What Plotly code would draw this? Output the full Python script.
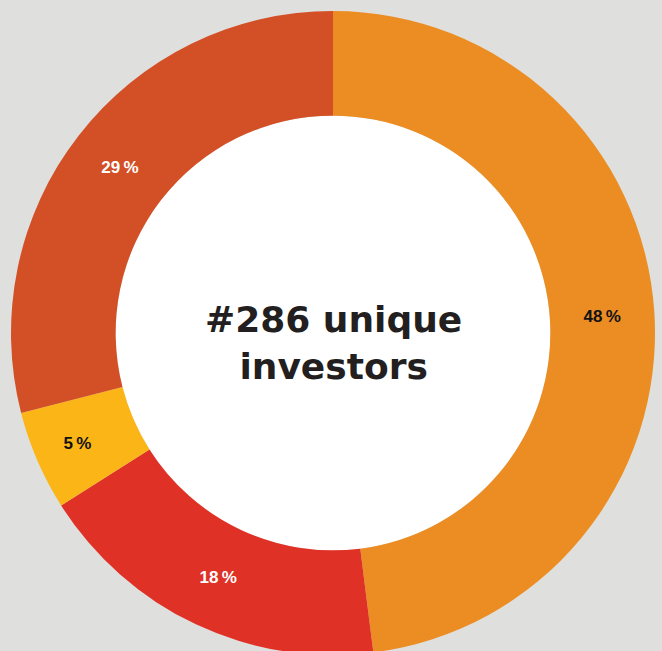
import plotly.graph_objects as go

# investor split, clockwise from 12 o'clock
segments = ["A", "B", "C", "D"]
shares = [48, 18, 5, 29]
seg_colors = ["#eb8d22", "#e03127", "#fbb517", "#d35027"]
label_colors = ["#111111", "#ffffff", "#111111", "#ffffff"]
center_text = "<b>#286 unique<br>investors</b>"

# canvas is a bit taller than the window so the ring is cut at the bottom like the original
W, H = 662, 666
cx, cy, r_out = 333, 333, 322   # px from top-left
hole = 0.675

fig = go.Figure(go.Pie(
    labels=segments,
    values=shares,
    sort=False,
    direction="clockwise",
    rotation=0,
    hole=hole,
    marker=dict(colors=seg_colors, line=dict(width=0)),
    textinfo="none",
    texttemplate="<b>%{value}\u2009%</b>",
    textposition="inside",
    insidetextorientation="horizontal",
    textfont=dict(family="Liberation Sans, Arial, sans-serif", size=17, color=label_colors),
    domain=dict(x=[(cx - r_out) / W, (cx + r_out) / W],
                y=[(H - cy - r_out) / H, (H - cy + r_out) / H]),
    showlegend=False,
))

# white disc behind the hole
r_in = r_out * hole
fig.add_shape(
    type="circle", xref="paper", yref="paper", layer="below",
    x0=(cx - r_in) / W, x1=(cx + r_in) / W,
    y0=(H - cy - r_in) / H, y1=(H - cy + r_in) / H,
    fillcolor="white", line=dict(width=0),
)

fig.add_annotation(
    text=center_text, x=cx / W, y=(H - cy - 10) / H, xref="paper", yref="paper",
    showarrow=False, xanchor="center", yanchor="middle",
    font=dict(family="DejaVu Sans, sans-serif", size=36, color="#231f20"),
)

fig.update_layout(
    width=W, height=H,
    margin=dict(l=0, r=0, t=0, b=0),
    paper_bgcolor="#dfdfdd",
    plot_bgcolor="#dfdfdd",
)

fig.write_html(
    "out.html",
    config={"displayModeBar": False},
    post_script="document.body.style.margin='0';document.body.style.overflow='hidden';document.body.style.background='#dfdfdd';",
)
